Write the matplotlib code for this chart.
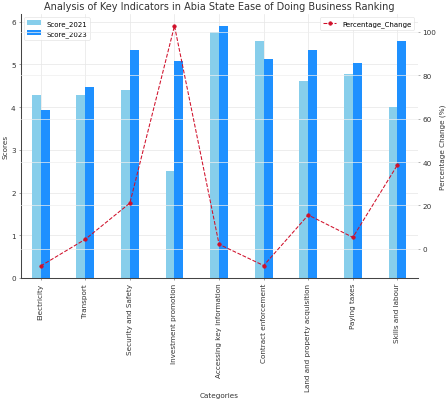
import matplotlib
matplotlib.use("Agg")
import matplotlib.pyplot as plt
import numpy as np

categories = ["Electricity", "Transport", "Security and Safety", "Investment promotion",
              "Accessing key information", "Contract enforcement",
              "Land and property acquisition", "Paying taxes", "Skills and labour"]
score_2021 = [4.28, 4.28, 4.41, 2.51, 5.77, 5.56, 4.62, 4.77, 4.01]
score_2023 = [3.94, 4.47, 5.34, 5.09, 5.89, 5.13, 5.34, 5.03, 5.56]
pct_change = [-7.9, 4.4, 21.1, 102.8, 2.1, -7.7, 15.6, 5.3, 38.7]

fig = plt.figure(figsize=(8.96, 8.04), dpi=50)
ax = fig.add_axes([0.046, 0.306, 0.886, 0.657])
x = np.arange(len(categories))
w = 0.2
ax.bar(x - w/2, score_2021, w, color="#87CEEB", label="Score_2021", zorder=2)
ax.bar(x + w/2, score_2023, w, color="#1E90FF", label="Score_2023", zorder=2)
ax.set_xticks(x)
ax.set_xticklabels(categories, rotation=90, fontsize=10.5, color="#333333")
ax.set_ylabel("Scores", fontsize=10.5, color="#333333")
ax.set_xlabel("Categories", fontsize=10.5, color="#333333", labelpad=1)
ax.set_title("Analysis of Key Indicators in Abia State Ease of Doing Business Ranking",
             fontsize=14, color="#333333", pad=7)
ax.grid(True, color="#e6e6e6", linewidth=1.0, zorder=0)
ax.set_axisbelow(True)
for s in ["top", "right"]:
    ax.spines[s].set_visible(False)
for s in ["left", "bottom"]:
    ax.spines[s].set_color("#444444")
    ax.spines[s].set_linewidth(1.5)
ax.tick_params(axis="both", colors="#555555", labelcolor="#333333", labelsize=10.5)
ax.set_xlim(-0.45, 8.45)
ax.legend(loc="upper left", fontsize=10, frameon=True, edgecolor="#dddddd")

ax2 = ax.twinx()
ax2.plot(x, pct_change, color="#d0102a", linestyle="--", marker="o", markersize=5,
         linewidth=1.5, label="Percentage_Change")
ax2.set_ylabel("Percentage Change (%)", fontsize=10.5, color="#333333")
ax2.grid(True, axis="y", color="#eeeeee", linewidth=1.0)
for s in ["top", "right", "left", "bottom"]:
    ax2.spines[s].set_visible(False)
ax2.tick_params(axis="y", colors="#777777", labelcolor="#333333", labelsize=10.5)
ax2.legend(loc="upper right", fontsize=10, frameon=True, edgecolor="#dddddd")

fig.savefig("out.png", dpi=50)
